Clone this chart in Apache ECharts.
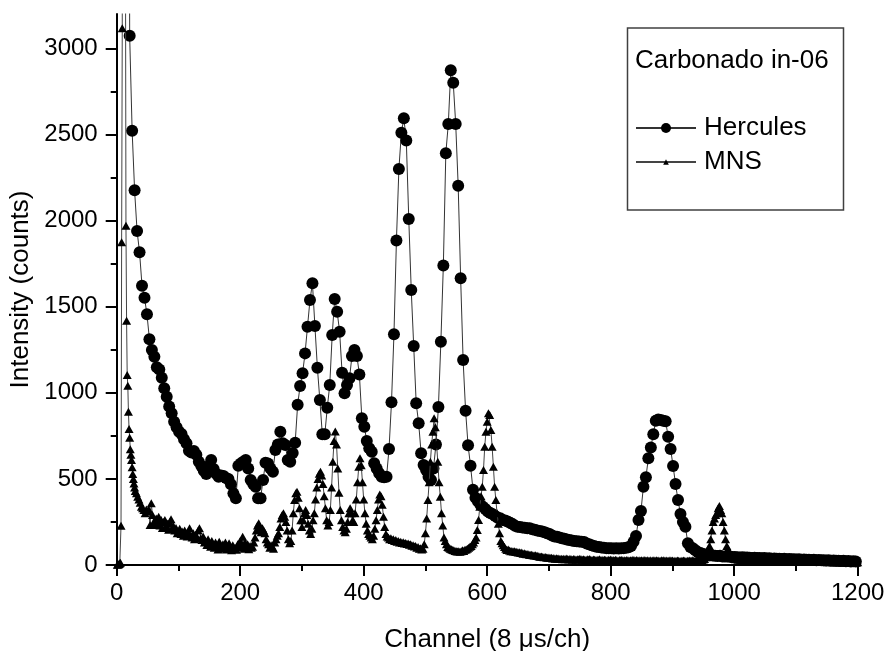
<!DOCTYPE html>
<html>
<head>
<meta charset="utf-8">
<script src="https://cdn.jsdelivr.net/npm/echarts@6/dist/echarts.min.js"></script>
<style>
html,body{margin:0;padding:0;background:#fff;}
#chart{width:886px;height:651px;}
</style>
</head>
<body>
<div id="chart"></div>
<script>
// ---------------- DATA ----------------
// Hercules: one point every 4 channels, starting at channel 17
const hercStart = 17;
const hercStep = 4;
const hercCounts = [
  12000, 3074, 2522, 2176, 1940, 1816, 1622, 1552, 1456, 1311,
  1249, 1210, 1148, 1135, 1088, 1026, 977, 920, 881, 832,
  800, 774, 761, 730, 707, 664, 654, 662, 640, 600,
  575, 548, 528, 575, 610, 557, 530, 513, 520, 517,
  505, 499, 469, 416, 387, 577, 590, 600, 610, 560,
  494, 471, 455, 387, 387, 494, 594, 590, 560, 542,
  668, 700, 774, 707, 697, 610, 600, 650, 710, 930,
  1040, 1113, 1229, 1384, 1539, 1636, 1388, 1146, 958, 759,
  759, 913, 1045, 1336, 1545, 1471, 1355, 1117, 997, 1045,
  1084, 1214, 1249, 1214, 1107, 852, 803, 720, 678, 658,
  591, 560, 533, 513, 510, 513, 674, 945, 1340, 1885,
  2300, 2510, 2595, 2465, 2010, 1597, 1272, 939, 823, 649,
  581, 552, 513, 494, 560, 700, 917, 1297, 1740, 2391,
  2561, 2873, 2801, 2561, 2203, 1665, 1190, 896, 696, 577,
  437, 390, 370, 350, 339, 325, 310, 302, 295, 285,
  275, 271, 262, 258, 252, 245, 238, 228, 222, 220,
  218, 216, 213, 213, 208, 204, 200, 198, 194, 190,
  185, 180, 172, 166, 164, 160, 155, 152, 148, 145,
  142, 140, 138, 136, 135, 133, 125, 120, 115, 110,
  106, 104, 102, 100, 98, 97, 97, 96, 97, 96,
  97, 98, 100, 103, 110, 135, 168, 261, 314, 455,
  509, 620, 683, 759, 838, 845, 842, 838, 835, 745,
  674, 575, 470, 377, 296, 250, 222, 126, 105, 97,
  85, 75, 70, 65, 60, 58, 57, 55, 54, 52,
  53, 50, 49, 50, 48, 46, 47, 45, 44, 45,
  43, 44, 42, 41, 42, 40, 41, 39, 40, 38,
  39, 37, 38, 36, 37, 35, 36, 34, 35, 33,
  34, 32, 33, 31, 32, 30, 31, 29, 30, 28,
  29, 27, 28, 26, 27, 25, 26, 24, 25, 23,
  24, 22, 23, 21, 22, 20
];

// MNS: channels 1..30 one by one, then every 2 channels from 32 to 1200
const mnsHeadStart = 1;
const mnsHeadCounts = [
  2, 3, 5, 6, 10, 13, 228, 1874, 3117, 6000,
  9000, 9000, 8000, 4000, 1970, 1419, 1103, 1041, 890, 790,
  739, 672, 640, 610, 567, 528, 500, 474, 450, 430
];
const mnsTailStart = 32;
const mnsTailStep = 2;
const mnsTailCounts = [
  416, 397, 380, 362, 339, 330, 319, 300, 322, 310, 323, 232, 358, 290, 250, 232, 270, 245, 280, 230,
  261, 215, 250, 261, 220, 240, 205, 250, 265, 213, 225, 200, 215, 185, 194, 210, 180, 195, 170, 200,
  184, 165, 190, 213, 170, 160, 185, 150, 175, 160, 200, 213, 155, 145, 165, 130, 140, 116, 150, 125,
  106, 140, 120, 100, 130, 115, 90, 135, 110, 95, 120, 100, 130, 90, 110, 126, 95, 85, 115, 100,
  97, 88, 120, 105, 140, 110, 164, 95, 130, 106, 120, 92, 110, 100, 106, 130, 160, 200, 230, 242,
  220, 190, 213, 200, 184, 150, 130, 120, 100, 115, 106, 95, 130, 150, 170, 184, 220, 270, 290, 300,
  280, 250, 200, 150, 126, 140, 200, 300, 377, 416, 426, 390, 330, 260, 220, 260, 300, 319, 290, 240,
  200, 180, 210, 260, 300, 380, 450, 500, 530, 542, 520, 470, 400, 330, 260, 230, 250, 320, 450, 600,
  720, 775, 700, 560, 420, 320, 260, 220, 200, 190, 210, 250, 300, 330, 300, 260, 250, 300, 380, 480,
  570, 620, 580, 480, 380, 300, 240, 200, 180, 170, 160, 150, 170, 210, 260, 320, 380, 410, 400, 350,
  280, 220, 180, 165, 160, 150, 155, 145, 150, 140, 145, 135, 140, 130, 135, 128, 132, 125, 128, 122,
  125, 118, 120, 112, 115, 108, 110, 100, 104, 95, 98, 90, 95, 120, 184, 270, 377, 480, 600, 700,
  774, 852, 800, 700, 600, 480, 397, 300, 230, 160, 140, 120, 105, 100, 95, 92, 87, 85, 82, 80,
  78, 80, 77, 80, 85, 82, 88, 90, 95, 100, 106, 110, 120, 130, 145, 160, 203, 261, 339, 400,
  455, 552, 687, 774, 832, 881, 871, 784, 687, 571, 455, 377, 300, 240, 184, 140, 126, 115, 105, 95,
  87, 90, 84, 80, 82, 78, 80, 75, 77, 72, 74, 70, 72, 66, 68, 64, 62, 64, 60, 58,
  60, 56, 55, 57, 52, 54, 50, 48, 50, 46, 45, 47, 44, 42, 43, 40, 42, 38, 40, 37,
  39, 36, 38, 35, 37, 34, 36, 33, 38, 35, 32, 36, 34, 31, 35, 33, 30, 34, 32, 36,
  33, 30, 34, 31, 29, 33, 30, 35, 31, 28, 32, 30, 27, 31, 29, 33, 28, 30, 27, 31,
  29, 26, 30, 28, 32, 27, 29, 26, 30, 28, 25, 29, 27, 31, 26, 28, 25, 29, 27, 24,
  28, 26, 30, 27, 25, 29, 26, 28, 24, 27, 25, 29, 26, 24, 28, 25, 27, 23, 26, 28,
  25, 27, 24, 26, 23, 27, 25, 28, 24, 26, 23, 25, 27, 24, 26, 22, 25, 23, 26, 24,
  22, 25, 23, 26, 24, 22, 25, 23, 26, 24, 27, 25, 23, 26, 28, 25, 27, 30, 28, 32,
  35, 45, 60, 95, 110, 150, 200, 250, 270, 290, 300, 330, 343, 320, 300, 250, 200, 150, 110, 95,
  70, 55, 45, 40, 36, 33, 35, 31, 34, 30, 32, 29, 33, 30, 28, 31, 27, 30, 28, 26,
  29, 27, 25, 28, 26, 24, 27, 25, 28, 23, 26, 24, 22, 25, 27, 23, 25, 22, 24, 26,
  23, 21, 24, 22, 25, 20, 23, 21, 24, 22, 20, 23, 21, 19, 22, 24, 20, 22, 19, 21,
  23, 20, 18, 21, 19, 22, 20, 18, 21, 19, 17, 20, 22, 18, 20, 17, 19, 21, 18, 16,
  19, 17, 20, 18, 16, 19, 17, 15, 18, 16, 19, 17, 15, 18, 16, 14, 17, 15, 18, 16,
  14, 17, 15, 13, 16
];

const xTicks = [0, 200, 400, 600, 800, 1000, 1200];
const yTicks = [0, 500, 1000, 1500, 2000, 2500, 3000];
const yMinorTicks = [250, 750, 1250, 1750, 2250, 2750];
const seriesNames = ['Hercules', 'MNS'];
const legendTitle = 'Carbonado in-06';
const xTitle = 'Channel (8 \u03bcs/ch)';
const yTitle = 'Intensity (counts)';

// ---------------- BUILD ----------------
const hercData = hercCounts.map((v, i) => [hercStart + i * hercStep, v]);
const mnsData = mnsHeadCounts.map((v, i) => [mnsHeadStart + i, v])
  .concat(mnsTailCounts.map((v, i) => [mnsTailStart + i * mnsTailStep, v]));

const FONT = '"Liberation Sans", Arial, Helvetica, sans-serif';
const chart = echarts.init(document.getElementById('chart'), null, {renderer: 'canvas'});

const tickStyle = {color: '#000', width: 2};
const plain = v => String(v);

const option = {
  animation: false,
  backgroundColor: '#ffffff',
  title: {
    text: legendTitle,
    left: 635,
    top: 48,
    padding: 0,
    textStyle: {fontFamily: FONT, fontSize: 26, fontWeight: 'normal', color: '#000', lineHeight: 26}
  },
  legend: [
    {
      data: [seriesNames[0]],
      orient: 'vertical',
      left: 635,
      top: 115,
      padding: 0,
      itemWidth: 60,
      itemHeight: 12.5,
      textStyle: {fontFamily: FONT, fontSize: 26, color: '#000', lineHeight: 26, padding: [0, 0, 0, 3]},
      selectedMode: false
    },
    {
      data: [seriesNames[1]],
      orient: 'vertical',
      left: 635,
      top: 149,
      padding: 0,
      itemWidth: 60,
      itemHeight: 7,
      textStyle: {fontFamily: FONT, fontSize: 26, color: '#000', lineHeight: 26, padding: [0, 0, 0, 3]},
      selectedMode: false
    }
  ],
  graphic: [
    {
      type: 'rect',
      z: 5,
      shape: {x: 627.5, y: 28, width: 216, height: 182},
      style: {fill: 'rgba(0,0,0,0)', stroke: '#404040', lineWidth: 1.5}
    }
  ],
  grid: {left: 116.7, right: 28.3, top: 14, bottom: 86, containLabel: false, outerBoundsMode: 'none'},
  xAxis: {
    type: 'value',
    min: 0,
    max: 1200,
    interval: 200,
    name: xTitle,
    nameLocation: 'middle',
    nameGap: 62,
    nameTextStyle: {fontFamily: FONT, fontSize: 26, color: '#000'},
    axisLine: {show: true, onZero: false, lineStyle: {color: '#000', width: 2}},
    axisTick: {show: true, inside: false, length: 11, customValues: xTicks, lineStyle: tickStyle},
    minorTick: {show: true, splitNumber: 2, length: 6, lineStyle: tickStyle},
    axisLabel: {fontFamily: FONT, fontSize: 24, color: '#000', margin: 16, customValues: xTicks, formatter: plain},
    splitLine: {show: false},
    minorSplitLine: {show: false}
  },
  yAxis: [
    {
      type: 'value',
      position: 'left',
      min: 0,
      max: 3200,
      interval: 500,
      name: yTitle,
      nameLocation: 'middle',
      nameGap: 82,
      nameTextStyle: {fontFamily: FONT, fontSize: 26, color: '#000'},
      axisLine: {show: true, onZero: false, lineStyle: {color: '#000', width: 2}},
      axisTick: {show: true, inside: false, length: 11, customValues: yTicks, lineStyle: tickStyle},
      axisLabel: {fontFamily: FONT, fontSize: 24, color: '#000', margin: 19, customValues: yTicks, formatter: plain},
      splitLine: {show: false}
    },
    {
      type: 'value',
      position: 'left',
      offset: 0,
      min: 0,
      max: 3200,
      interval: 250,
      axisLine: {show: false},
      axisTick: {show: true, inside: false, length: 6, customValues: yMinorTicks, lineStyle: tickStyle},
      axisLabel: {show: false},
      splitLine: {show: false}
    }
  ],
  series: [
    {
      name: seriesNames[0],
      type: 'line',
      yAxisIndex: 0,
      data: hercData,
      symbol: 'circle',
      symbolSize: 12,
      showSymbol: true,
      showAllSymbol: true,
      sampling: 'none',
      clip: true,
      itemStyle: {color: '#000'},
      lineStyle: {color: '#333', width: 1},
      emphasis: {disabled: true},
      z: 2
    },
    {
      name: seriesNames[1],
      type: 'line',
      yAxisIndex: 0,
      data: mnsData,
      symbol: 'triangle',
      symbolSize: [9, 8],
      showSymbol: true,
      showAllSymbol: true,
      sampling: 'none',
      clip: true,
      itemStyle: {color: '#000'},
      lineStyle: {color: '#444', width: 1},
      emphasis: {disabled: true},
      z: 3
    }
  ]
};
chart.setOption(option);
</script>
</body>
</html>
